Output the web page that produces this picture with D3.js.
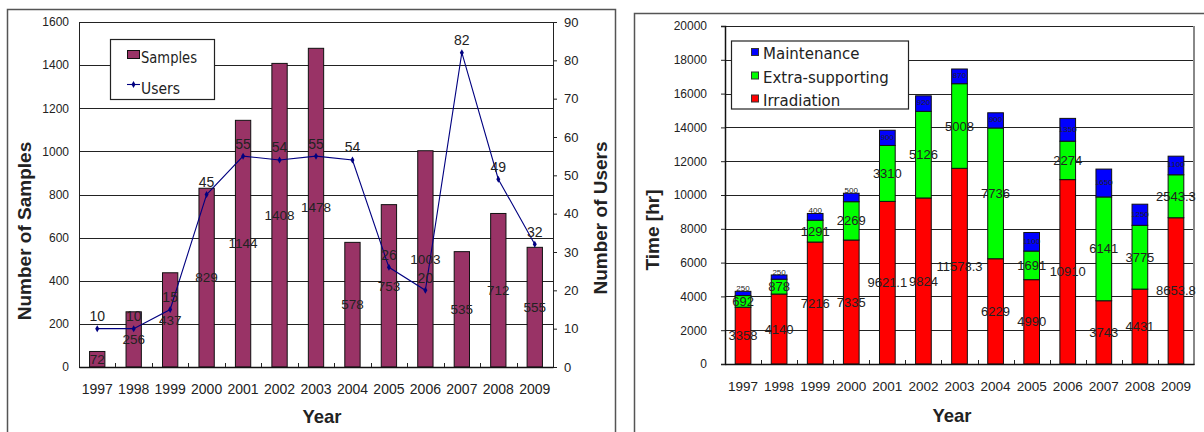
<!DOCTYPE html>
<html>
<head>
<meta charset="utf-8">
<script src="https://cdn.jsdelivr.net/npm/d3@7"></script>
<style>
  body { margin: 0; background: #fff; }
  svg { display: block; }
  text { font-family: "Liberation Sans", Arial, sans-serif; fill: #222; }
</style>
</head>
<body>
<svg id="chart" width="1204" height="432"></svg>
<script>
// Years shared by both panels
const years = ["1997","1998","1999","2000","2001","2002","2003","2004","2005","2006","2007","2008","2009"];

// Left panel: samples (bars) and users (line)
const samples = [72, 256, 437, 829, 1144, 1408, 1478, 578, 753, 1003, 535, 712, 555];
const users = [10, 10, 15, 45, 55, 54, 55, 54, 26, 20, 82, 49, 32];
const sampleTicks = [0, 200, 400, 600, 800, 1000, 1200, 1400, 1600];
const userTicks = [0, 10, 20, 30, 40, 50, 60, 70, 80, 90];

// Right panel: beam time split into stacked components (hours)
const irradiation = [3358, 4140, 7216, 7335, 9621.1, 9824, 11578.3, 6229, 4990, 10910, 3743, 4431, 8653.8];
const extraSupporting = [692, 878, 1291, 2269, 3310, 5126, 5008, 7736, 1691, 2274, 6141, 3775, 2543.3];
const maintenance = [250, 250, 400, 500, 900, 920, 870, 900, 1100, 1350, 1650, 1250, 1100];
const timeTicks = [0, 2000, 4000, 6000, 8000, 10000, 12000, 14000, 16000, 18000, 20000];

const svg = d3.select("#chart");

/* ---------------- Left panel ---------------- */
const L = { left: 79, right: 553, top: 22, bottom: 367 };
const left = svg.append("g");

// outer frame
left.append("path")
  .attr("d", `M7.5,432 V9.5 H615.5 V432`)
  .attr("fill", "none").attr("stroke", "#555").attr("stroke-width", 1.5);

const xL = d3.scaleBand().domain(years).range([L.left, L.right])
  .paddingInner(0.58).paddingOuter(0.29);
const yL = d3.scaleLinear().domain([0, 1600]).range([L.bottom, L.top]);
const yU = d3.scaleLinear().domain([0, 90]).range([L.bottom, L.top]);

// gridlines
left.append("g").selectAll("line").data(sampleTicks).join("line")
  .attr("x1", L.left).attr("x2", L.right)
  .attr("y1", d => Math.round(yL(d)) + 0.5).attr("y2", d => Math.round(yL(d)) + 0.5)
  .attr("stroke", "#222").attr("stroke-width", 1);

// left border of plot area
left.append("line").attr("x1", L.left + 0.5).attr("x2", L.left + 0.5)
  .attr("y1", L.top).attr("y2", L.bottom).attr("stroke", "#222");

// bars
left.append("g").selectAll("rect").data(years).join("rect")
  .attr("x", d => xL(d))
  .attr("width", xL.bandwidth())
  .attr("y", (d, i) => yL(samples[i]))
  .attr("height", (d, i) => yL(0) - yL(samples[i]))
  .attr("fill", "#993366").attr("stroke", "#111").attr("stroke-width", 1);

// left axis
const axL = left.append("g").attr("transform", `translate(${L.left},0)`)
  .call(d3.axisLeft(yL).tickValues(sampleTicks).tickSize(0).tickPadding(10).tickFormat(d3.format("d")));
axL.select(".domain").remove();
axL.selectAll("text").style("font-size", "12px").style("font-family", "Liberation Sans, Arial, sans-serif").attr("fill", "#222");

// right axis (users)
const axR = left.append("g").attr("transform", `translate(${L.right},0)`)
  .call(d3.axisRight(yU).tickValues(userTicks).tickSize(4).tickPadding(7).tickFormat(d3.format("d")));
axR.select(".domain").attr("stroke", "#222");
axR.selectAll("line").attr("stroke", "#222");
axR.selectAll("text").style("font-size", "13px").style("font-family", "Liberation Sans, Arial, sans-serif").attr("fill", "#222");

// bottom axis
const axB = left.append("g").attr("transform", `translate(0,${L.bottom})`)
  .call(d3.axisBottom(xL).tickSize(0).tickPadding(17));
axB.select(".domain").attr("stroke", "#111").attr("stroke-width", 1.5);
axB.selectAll("text").style("font-size", "14px").style("font-family", "Liberation Sans, Arial, sans-serif").attr("fill", "#222");
left.append("g").selectAll("line").data(years.slice(1)).join("line")
  .attr("x1", d => Math.round(xL(d) + xL.bandwidth() / 2 - xL.step() / 2) + 0.5)
  .attr("x2", d => Math.round(xL(d) + xL.bandwidth() / 2 - xL.step() / 2) + 0.5)
  .attr("y1", L.bottom).attr("y2", L.bottom - 4)
  .attr("stroke", "#222");

// users line
const cx = d => xL(d) + xL.bandwidth() / 2;
left.append("path")
  .datum(years)
  .attr("d", d3.line().x(cx).y((d, i) => yU(users[i])))
  .attr("fill", "none").attr("stroke", "#000080").attr("stroke-width", 1.1);
left.append("g").selectAll("path").data(years).join("path")
  .attr("transform", (d, i) => `translate(${cx(d)},${yU(users[i])})`)
  .attr("d", d3.symbol(d3.symbolDiamond, 14))
  .attr("fill", "#000080");

// sample labels (centered in bar)
left.append("g").selectAll("text").data(years).join("text")
  .attr("x", cx)
  .attr("y", (d, i) => (yL(0) + yL(samples[i])) / 2)
  .attr("dy", "0.35em").attr("text-anchor", "middle")
  .style("font-size", "13.5px").attr("fill", "#2a2a2a")
  .text((d, i) => samples[i]);

// user labels (above point)
left.append("g").selectAll("text").data(years).join("text")
  .attr("x", cx)
  .attr("y", (d, i) => yU(users[i]) - 12.5)
  .attr("dy", "0.35em").attr("text-anchor", "middle")
  .style("font-size", "14px").attr("fill", "#2a2a2a")
  .text((d, i) => users[i]);

// axis titles
left.append("text").attr("transform", "translate(24,231) rotate(-90)")
  .attr("text-anchor", "middle").attr("dy", "0.35em")
  .style("font-size", "19px").style("font-weight", "bold").attr("fill", "#000")
  .text("Number of Samples");
left.append("text").attr("transform", "translate(600,218) rotate(-90)")
  .attr("text-anchor", "middle").attr("dy", "0.35em")
  .style("font-size", "19px").style("font-weight", "bold").attr("fill", "#000")
  .text("Number of Users");
left.append("text").attr("x", 322).attr("y", 417)
  .attr("text-anchor", "middle").attr("dy", "0.35em")
  .style("font-size", "18.5px").style("font-weight", "bold").attr("fill", "#000")
  .text("Year");

// legend
const lg = left.append("g");
lg.append("rect").attr("x", 110.5).attr("y", 39.5).attr("width", 104).attr("height", 60)
  .attr("fill", "#fff").attr("stroke", "#222").attr("stroke-width", 1.2);
lg.append("rect").attr("x", 127.5).attr("y", 50.5).attr("width", 12).attr("height", 8)
  .attr("fill", "#993366").attr("stroke", "#111");
lg.append("text").attr("x", 141).attr("y", 57).attr("dy", "0.35em")
  .attr("textLength", 56).attr("lengthAdjust", "spacingAndGlyphs")
  .style("font-family", "DejaVu Sans, sans-serif").style("font-size", "16px").attr("fill", "#222")
  .text("Samples");
lg.append("line").attr("x1", 127).attr("x2", 140).attr("y1", 84.5).attr("y2", 84.5)
  .attr("stroke", "#000080").attr("stroke-width", 1.1);
lg.append("path").attr("transform", "translate(133.5,84.5)")
  .attr("d", d3.symbol(d3.symbolDiamond, 14)).attr("fill", "#000080");
lg.append("text").attr("x", 141).attr("y", 88).attr("dy", "0.35em")
  .attr("textLength", 39).attr("lengthAdjust", "spacingAndGlyphs")
  .style("font-family", "DejaVu Sans, sans-serif").style("font-size", "16px").attr("fill", "#222")
  .text("Users");

/* ---------------- Right panel ---------------- */
const R = { left: 725, right: 1194, top: 26, bottom: 364 };
const right = svg.append("g");

right.append("path")
  .attr("d", `M634.5,432 V13.5 H1210`)
  .attr("fill", "none").attr("stroke", "#555").attr("stroke-width", 1.5);

const xR = d3.scaleBand().domain(years).range([R.left, R.right])
  .paddingInner(0.565).paddingOuter(0.2825);
const yR = d3.scaleLinear().domain([0, 20000]).range([R.bottom, R.top]);

// gridlines
right.append("g").selectAll("line").data(timeTicks).join("line")
  .attr("x1", R.left).attr("x2", R.right)
  .attr("y1", d => Math.round(yR(d)) + 0.5).attr("y2", d => Math.round(yR(d)) + 0.5)
  .attr("stroke", "#222");

// plot-area right border
right.append("line").attr("x1", R.right).attr("x2", R.right)
  .attr("y1", R.top).attr("y2", R.bottom + 1).attr("stroke", "#888").attr("stroke-width", 2);

// stacked bars
const keys = ["irradiation", "extraSupporting", "maintenance"];
const colors = { irradiation: "#ff0000", extraSupporting: "#00ff00", maintenance: "#0000ff" };
const rows = years.map((y, i) => ({
  year: y,
  irradiation: irradiation[i],
  extraSupporting: extraSupporting[i],
  maintenance: maintenance[i]
}));
const stacked = d3.stack().keys(keys)(rows);

const layers = right.append("g").selectAll("g").data(stacked).join("g")
  .attr("fill", d => colors[d.key]);
layers.selectAll("rect").data(d => d).join("rect")
  .attr("x", d => xR(d.data.year))
  .attr("width", xR.bandwidth())
  .attr("y", d => yR(d[1]))
  .attr("height", d => yR(d[0]) - yR(d[1]))
  .attr("stroke", "#111").attr("stroke-width", 1);

// y axis
const ayR = right.append("g").attr("transform", `translate(${R.left},0)`)
  .call(d3.axisLeft(yR).tickValues(timeTicks).tickSize(4).tickPadding(14).tickFormat(d3.format("d")));
ayR.select(".domain").attr("stroke", "#111").attr("stroke-width", 1.5);
ayR.selectAll("line").attr("stroke", "#222");
ayR.selectAll("text").style("font-size", "12px").style("font-family", "Liberation Sans, Arial, sans-serif").attr("fill", "#222");

// x axis
const axRB = right.append("g").attr("transform", `translate(0,${R.bottom})`)
  .call(d3.axisBottom(xR).tickSize(0).tickPadding(17));
axRB.select(".domain").attr("stroke", "#111").attr("stroke-width", 1.5);
axRB.selectAll("text").style("font-size", "13.5px").style("font-family", "Liberation Sans, Arial, sans-serif").attr("fill", "#222");
right.append("g").selectAll("line").data(years.slice(1)).join("line")
  .attr("x1", d => Math.round(xR(d) + xR.bandwidth() / 2 - xR.step() / 2) + 0.5)
  .attr("x2", d => Math.round(xR(d) + xR.bandwidth() / 2 - xR.step() / 2) + 0.5)
  .attr("y1", R.bottom).attr("y2", R.bottom - 4)
  .attr("stroke", "#222");

// segment labels; thin maintenance segments get their label just above the bar
layers.each(function (layer) {
  const isMaint = layer.key === "maintenance";
  d3.select(this).selectAll("text").data(layer).join("text")
    .attr("x", d => xR(d.data.year) + xR.bandwidth() / 2)
    .attr("y", d => {
      const h = yR(d[0]) - yR(d[1]);
      if (isMaint && h < 10) return yR(d[1]) - 3;
      return (yR(d[0]) + yR(d[1])) / 2 - (isMaint ? 1 : 0);
    })
    .attr("dy", "0.35em").attr("text-anchor", "middle")
    .style("font-size", isMaint ? "8px" : "13px")
    .attr("fill", d => isMaint ? ((yR(d[0]) - yR(d[1])) < 10 ? "#444" : "#1a1a50") : "#2a2a2a")
    .text(d => d.data[layer.key]);
});

// axis titles
right.append("text").attr("transform", "translate(652,230) rotate(-90)")
  .attr("text-anchor", "middle").attr("dy", "0.35em")
  .style("font-size", "19px").style("font-weight", "bold").attr("fill", "#000")
  .text("Time [hr]");
right.append("text").attr("x", 952).attr("y", 416)
  .attr("text-anchor", "middle").attr("dy", "0.35em")
  .style("font-size", "18.5px").style("font-weight", "bold").attr("fill", "#000")
  .text("Year");

// legend
const legendItems = [
  { key: "maintenance", label: "Maintenance", y: 54 },
  { key: "extraSupporting", label: "Extra-supporting", y: 77.5 },
  { key: "irradiation", label: "Irradiation", y: 100.5 }
];
const rg = right.append("g");
rg.append("rect").attr("x", 731.5).attr("y", 41).attr("width", 177).attr("height", 68)
  .attr("fill", "#fff").attr("stroke", "#222").attr("stroke-width", 1.2);
rg.selectAll("rect.sw").data(legendItems).join("rect").attr("class", "sw")
  .attr("x", 751.5).attr("y", d => d.y - 5.5).attr("width", 7).attr("height", 7)
  .attr("fill", d => colors[d.key]).attr("stroke", "#333");
rg.selectAll("text").data(legendItems).join("text")
  .attr("x", 763).attr("y", d => d.y).attr("dy", "0.35em")
  .style("font-family", "DejaVu Sans, sans-serif").style("font-size", "15px").attr("fill", "#222")
  .text(d => d.label);
</script>
</body>
</html>
